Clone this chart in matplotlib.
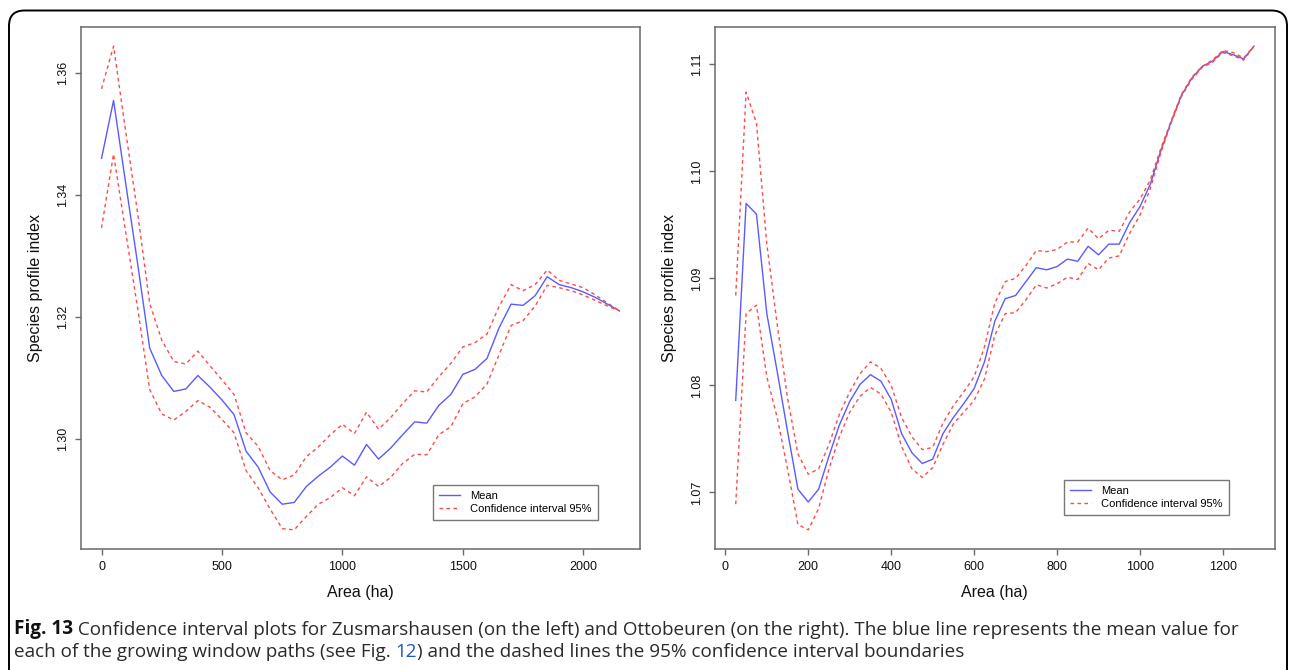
import matplotlib
matplotlib.use("Agg")
import matplotlib.pyplot as plt
from matplotlib.patches import FancyBboxPatch
from matplotlib.lines import Line2D
import numpy as np

# ---------------- data ----------------
left_x = list(range(0, 2151, 50))
left_mean = [1.3460, 1.3555, 1.3420, 1.3287, 1.3149, 1.3104, 1.3078, 1.3082, 1.3104, 1.3085,
             1.3064, 1.3040, 1.2980, 1.2954, 1.2913, 1.2893, 1.2896, 1.2922, 1.2939, 1.2954,
             1.2972, 1.2957, 1.2991, 1.2967, 1.2985, 1.3007, 1.3028, 1.3026, 1.3055, 1.3073,
             1.3106, 1.3114, 1.3132, 1.3182, 1.3221, 1.3219, 1.3235, 1.3266, 1.3253, 1.3248,
             1.3241, 1.3232, 1.3221, 1.3210]
left_upper = [1.3574, 1.3644, 1.3505, 1.3370, 1.3222, 1.3162, 1.3127, 1.3123, 1.3144, 1.3120,
              1.3097, 1.3073, 1.3010, 1.2988, 1.2948, 1.2933, 1.2941, 1.2971, 1.2987, 1.3007,
              1.3024, 1.3009, 1.3044, 1.3016, 1.3035, 1.3058, 1.3079, 1.3077, 1.3102, 1.3124,
              1.3151, 1.3158, 1.3172, 1.3217, 1.3253, 1.3243, 1.3253, 1.3277, 1.3260, 1.3254,
              1.3248, 1.3236, 1.3223, 1.3210]
left_lower = [1.3346, 1.3467, 1.3340, 1.3214, 1.3081, 1.3041, 1.3031, 1.3045, 1.3063, 1.3052,
              1.3032, 1.3010, 1.2948, 1.2920, 1.2885, 1.2853, 1.2851, 1.2873, 1.2893, 1.2904,
              1.2920, 1.2907, 1.2938, 1.2922, 1.2937, 1.2960, 1.2975, 1.2974, 1.3007, 1.3020,
              1.3058, 1.3069, 1.3090, 1.3138, 1.3186, 1.3194, 1.3218, 1.3252, 1.3248, 1.3243,
              1.3236, 1.3227, 1.3218, 1.3210]
left_xticks = [0, 500, 1000, 1500, 2000]
left_yticks = [1.30, 1.32, 1.34, 1.36]

right_x = list(range(25, 1276, 25))
right_mean = [1.0786, 1.0970, 1.0960, 1.0867, 1.0813, 1.0757, 1.0703, 1.0691, 1.0703, 1.0734,
              1.0763, 1.0785, 1.0801, 1.0810, 1.0804, 1.0787, 1.0755, 1.0737, 1.0727, 1.0731,
              1.0755, 1.0770, 1.0783, 1.0797, 1.0822, 1.0860, 1.0881, 1.0884, 1.0897, 1.0910,
              1.0908, 1.0911, 1.0918, 1.0916, 1.0930, 1.0922, 1.0932, 1.0932, 1.0952, 1.0967,
              1.0988, 1.1019, 1.1046, 1.1071, 1.1087, 1.1098, 1.1103, 1.1112, 1.1109, 1.1105,
              1.1117]
right_upper = [1.0884, 1.1074, 1.1045, 1.0932, 1.0857, 1.0788, 1.0736, 1.0717, 1.0722, 1.0745,
               1.0773, 1.0794, 1.0811, 1.0822, 1.0816, 1.0800, 1.0770, 1.0752, 1.0740, 1.0742,
               1.0765, 1.0781, 1.0794, 1.0808, 1.0836, 1.0877, 1.0897, 1.0900, 1.0912, 1.0926,
               1.0925, 1.0927, 1.0934, 1.0934, 1.0947, 1.0937, 1.0945, 1.0944, 1.0962, 1.0974,
               1.0992, 1.1021, 1.1047, 1.1072, 1.1088, 1.1098, 1.1104, 1.1113, 1.1111, 1.1106,
               1.1117]
right_lower = [1.0689, 1.0867, 1.0875, 1.0808, 1.0770, 1.0722, 1.0670, 1.0665, 1.0685, 1.0722,
               1.0752, 1.0775, 1.0790, 1.0798, 1.0792, 1.0775, 1.0743, 1.0722, 1.0714, 1.0723,
               1.0745, 1.0764, 1.0775, 1.0786, 1.0806, 1.0847, 1.0867, 1.0868, 1.0880, 1.0894,
               1.0891, 1.0895, 1.0901, 1.0899, 1.0914, 1.0908, 1.0919, 1.0921, 1.0942, 1.0959,
               1.0984, 1.1017, 1.1045, 1.1070, 1.1086, 1.1097, 1.1102, 1.1111, 1.1108, 1.1104,
               1.1117]
right_xticks = [0, 200, 400, 600, 800, 1000, 1200]
right_yticks = [1.07, 1.08, 1.09, 1.10, 1.11]

x_label = "Area (ha)"
y_label = "Species profile index"
legend_labels = ["Mean", "Confidence interval 95%"]
caption_line1 = [("Fig. 13", "bold", "#111111"),
                 (" Confidence interval plots for Zusmarshausen (on the left) and Ottobeuren "
                  "(on the right). The blue line represents the mean value for", "normal", "#2a2a2a")]
caption_line2 = [("each of the growing window paths (see Fig. ", "normal", "#2a2a2a"),
                 ("12", "normal", "#1a56c8"),
                 (") and the dashed lines the 95% confidence interval boundaries", "normal", "#2a2a2a")]

# ---------------- style ----------------
W, H = 1290, 670
plt.rcParams['font.family'] = ['Liberation Sans', 'DejaVu Sans']
MEAN_C = '#5A5AFF'
CI_C = '#FF4A4A'
FRAME_C = '#6a6a6a'

fig = plt.figure(figsize=(W / 100, H / 100), dpi=100)

def px_axes(x0, y0, x1, y1):
    return fig.add_axes([x0 / W, 1 - y1 / H, (x1 - x0) / W, (y1 - y0) / H])

def r_lim(vals):
    lo, hi = min(vals), max(vals)
    pad = 0.04 * (hi - lo)
    return lo - pad, hi + pad

def draw_panel(ax, x, mean, upper, lower, xticks, yticks, fmt, leg_anchor):
    ax.plot(x, mean, color=MEAN_C, lw=1.0)
    ax.plot(x, upper, color=CI_C, lw=1.0, dashes=(2.6, 2.4))
    ax.plot(x, lower, color=CI_C, lw=1.0, dashes=(2.6, 2.4))
    ax.set_xlim(*r_lim(x))
    ax.set_ylim(*r_lim(list(upper) + list(lower) + list(mean)))
    ax.set_xticks(xticks)
    ax.set_yticks(yticks)
    ax.set_xticklabels([str(t) for t in xticks])
    ax.set_yticklabels([fmt.format(t) for t in yticks], rotation=90, va='center')
    for s in ax.spines.values():
        s.set_color(FRAME_C)
        s.set_linewidth(1.1)
    ax.tick_params(direction='out', length=4.5, width=1.0, color=FRAME_C,
                   labelsize=9, pad=4, labelcolor='#111111')
    ax.text(0.5, -0.082, x_label, transform=ax.transAxes, ha='center', va='center',
            fontsize=11.5, color='#111111')
    ax.text(-0.081, 0.5, y_label, transform=ax.transAxes, ha='center', va='center',
            rotation=90, fontsize=11.5, color='#111111')
    handles = [Line2D([], [], color=MEAN_C, lw=1.0),
               Line2D([], [], color=CI_C, lw=1.0, dashes=(2.6, 2.4))]
    leg = ax.legend(handles, legend_labels, loc='lower right', bbox_to_anchor=leg_anchor,
                    fontsize=8, frameon=True, fancybox=False, edgecolor='#555555',
                    handlelength=1.9, handletextpad=0.9, labelspacing=0.25,
                    borderpad=0.55, borderaxespad=0.0)
    leg.get_frame().set_linewidth(1.0)

axL = px_axes(80.8, 26.8, 640.2, 549.2)
draw_panel(axL, left_x, left_mean, left_upper, left_lower, left_xticks, left_yticks,
           "{:.2f}", (0.924, 0.056))

axR = px_axes(715, 26.8, 1274.7, 549.2)
draw_panel(axR, right_x, right_mean, right_upper, right_lower, right_xticks, right_yticks,
           "{:.2f}", (0.918, 0.066))

# outer rounded border
border = FancyBboxPatch((9 / W, -30 / H), (1287 - 9) / W, (659.5 + 30) / H,
                        boxstyle="round,pad=0,rounding_size=0.012",
                        transform=fig.transFigure, fill=False, edgecolor='black',
                        linewidth=1.4, mutation_aspect=W / H)
fig.add_artist(border)

CAP_FONT = ['Open Sans', 'DejaVu Sans']

cap = fig.add_axes([0, 0, 1, 1])
cap.set_axis_off()
cap.set_xlim(0, W)
cap.set_ylim(H, 0)

def chain(pieces, x0, y0, fs):
    arts = []
    prev = None
    for txt, weight, color in pieces:
        if prev is None:
            prev = cap.text(x0, y0, txt, fontsize=fs, fontweight=weight, color=color,
                            family=CAP_FONT, ha='left', va='baseline')
        else:
            prev = cap.annotate(txt, xy=(1, 0), xycoords=prev, ha='left', va='bottom',
                                fontsize=fs, fontweight=weight, color=color,
                                family=CAP_FONT)
        arts.append(prev)
    return arts

fs0 = 11.0
line1 = chain(caption_line1, 14, 634, fs0)
line2 = chain(caption_line2, 14, 657, fs0)
fig.canvas.draw()
r = fig.canvas.get_renderer()
end_px = line1[-1].get_window_extent(r).x1
start_px = line1[0].get_window_extent(r).x0
scale = (1236 - 14) / (end_px - start_px)
for a in line1 + line2:
    a.set_fontsize(fs0 * scale)

fig.savefig("out.png", dpi=100)
